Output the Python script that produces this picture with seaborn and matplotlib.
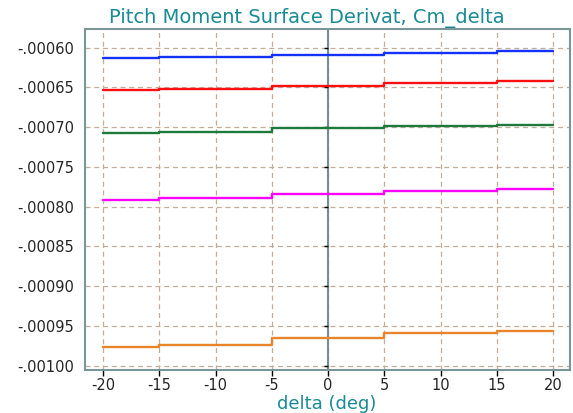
import numpy as np
import pandas as pd
import matplotlib
matplotlib.use("Agg")
import matplotlib.pyplot as plt
import matplotlib.ticker as mticker
import seaborn as sns

# ---- data ----
delta = [-20, -15, -5, 5, 15, 20]
blue = [-0.0006134, -0.0006120, -0.0006092, -0.0006063, -0.0006042, -0.0006042]
red = [-0.0006533, -0.0006516, -0.0006489, -0.0006448, -0.0006419, -0.0006419]
green = [-0.0007078, -0.0007058, -0.0007011, -0.0006990, -0.0006974, -0.0006974]
magenta = [-0.0007922, -0.0007893, -0.0007839, -0.0007801, -0.0007776, -0.0007776]
orange = [-0.0009761, -0.0009736, -0.0009656, -0.0009589, -0.0009564, -0.0009564]
series_names = ["s1", "s2", "s3", "s4", "s5"]
series_vals = [blue, red, green, magenta, orange]
series_colors = ["#1432ff", "#ff1010", "#1d7a3c", "#ff00ff", "#e8852a"]
xticks = [-20, -15, -10, -5, 0, 5, 10, 15, 20]
yticks = [-0.0006, -0.00065, -0.0007, -0.00075, -0.0008, -0.00085, -0.0009, -0.00095, -0.0010]
title = "Pitch Moment Surface Derivat, Cm_delta"
xlabel = "delta (deg)"

sns.set_style("white")
plt.rcParams["font.family"] = ["DejaVu Sans"]

fig = plt.figure(figsize=(5.73, 4.13), dpi=100)
ax = fig.add_axes([85 / 573, 1 - 370 / 413, (570 - 85) / 573, (370 - 29.3) / 413])

df = pd.concat(
    [pd.DataFrame({"delta": delta, "Cm": v, "series": n}) for n, v in zip(series_names, series_vals)],
    ignore_index=True,
)

grid_color = "#c4ad98"
for t in xticks:
    ax.axvline(t, color=grid_color, lw=0.9, ls=(0, (4, 3)), zorder=1)
for t in yticks:
    ax.axhline(t, color=grid_color, lw=0.9, ls=(0, (4, 3)), zorder=1)

ax.axvline(0, color="#748f92", lw=1.5, zorder=2)

sns.lineplot(
    data=df, x="delta", y="Cm", hue="series", palette=dict(zip(series_names, series_colors)),
    drawstyle="steps-post", lw=1.7, legend=False, ax=ax, sort=False, estimator=None, zorder=3,
)

# small tick marks on the zero line
ax.scatter([0] * len(yticks), yticks, marker=0, s=10, color="black", lw=1.0, zorder=2.5)

ax.set_xlim(-21.6, 21.5)
ax.set_ylim(-0.0010053, -0.000577)
ax.set_xticks(xticks)
ax.set_yticks(yticks)
ax.xaxis.set_major_formatter(mticker.FuncFormatter(lambda v, p: f"{int(round(v))}"))
ax.yaxis.set_major_formatter(mticker.FuncFormatter(lambda v, p: f"{v:.5f}".replace("0.", ".")))
ax.tick_params(axis="x", length=4, width=1, color="black", direction="out", pad=2,
               labelsize=10.5, bottom=True)
ax.tick_params(axis="y", length=0, pad=8, labelsize=10.5, left=True)
ax.set_xlabel("")
ax.set_ylabel("")
for s in ax.spines.values():
    s.set_color("#7a9597")
    s.set_linewidth(1.5)
    s.set_visible(True)

fig.text(307 / 573, 1 - 22.7 / 413, title, ha="center", va="baseline", fontsize=14, color="#1a8a94")
fig.text(327 / 573, 1 - 409 / 413, xlabel, ha="center", va="baseline", fontsize=13, color="#1a8a94")

fig.savefig("out.png", dpi=100)
